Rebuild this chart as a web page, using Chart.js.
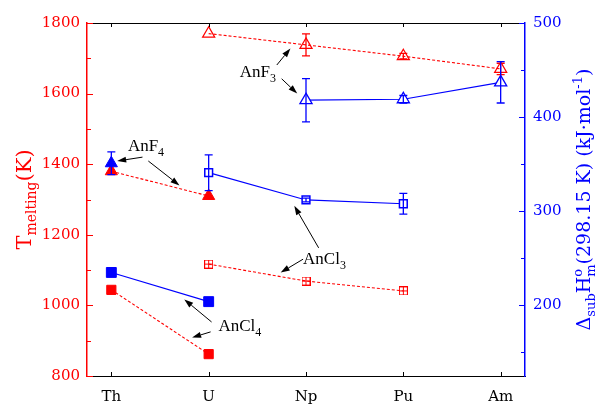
<!DOCTYPE html>
<html>
<head>
<meta charset="utf-8">
<script src="https://cdn.jsdelivr.net/npm/chart.js@4.4.1/dist/chart.umd.min.js"></script>
<style>
  html, body { margin: 0; padding: 0; background: #fff; }
</style>
</head>
<body>
<canvas id="meltChart" width="595" height="404"></canvas>
<script>
const elements = ["Th", "U", "Np", "Pu", "Am"];

// melting temperatures, K (left axis)
const tmAnF3 = [null, 1770, 1738, 1706, 1670];
const tmAnF3Err = [0, 0, 31, 8, 16];
const tmAnF4 = [1380, 1310, null, null, null];
const tmAnCl3 = [null, 1117, 1069, 1041, null];
const tmAnCl4 = [1044, 862, null, null, null];

// sublimation enthalpies at 298.15 K, kJ/mol (right axis)
const hAnF3 = [null, null, 418, 419, 437];
const hAnF3Err = [0, 0, 23, 4, 22];
const hAnF4 = [351, null, null, null, null];
const hAnF4Err = [12, 0, 0, 0, 0];
const hAnCl3 = [null, 341, 312, 308, null];
const hAnCl3Err = [0, 19, 2, 11, 0];
const hAnCl4 = [235, 204, null, null, null];
const hAnCl4Err = [3, 4, 0, 0, 0];

const tmTicks = [800, 1000, 1200, 1400, 1600, 1800];
const hTicks = [200, 300, 400, 500];

const RED = "#ff0000";
const BLUE = "#0000ff";
const SERIF = "DejaVu Serif";

function pts(vals, errs) {
  const out = [];
  vals.forEach((v, i) => {
    if (v !== null) out.push({ x: i, y: v, err: errs ? errs[i] : 0 });
  });
  return out;
}

// small square with a plus inside, used for the AnCl3 melting points
function crossedSquare(color, size) {
  const c = document.createElement("canvas");
  c.width = size; c.height = size;
  const g = c.getContext("2d");
  g.strokeStyle = color;
  g.lineWidth = 1;
  g.strokeRect(0.5, 0.5, size - 1, size - 1);
  g.beginPath();
  g.moveTo(size / 2, 0); g.lineTo(size / 2, size);
  g.moveTo(0, size / 2); g.lineTo(size, size / 2);
  g.stroke();
  return c;
}

// labels with arrows, positions in (element index, T in K)
const callouts = [
  { text: "AnF", sub: "3", at: [1.32, 1647],
    arrows: [[[1.70, 1681], [1.84, 1728]], [[1.75, 1642], [1.91, 1600]]] },
  { text: "AnF", sub: "4", at: [0.17, 1437],
    arrows: [[[0.32, 1420], [0.06, 1409]], [[0.38, 1409], [0.70, 1340]]] },
  { text: "AnCl", sub: "3", at: [1.97, 1117],
    arrows: [[[2.13, 1163], [1.88, 1282]], [[1.97, 1131], [1.74, 1093]]] },
  { text: "AnCl", sub: "4", at: [1.10, 927],
    arrows: [[[1.03, 953], [0.75, 1017]], [[1.02, 925], [0.83, 909]]] }
];

const errorBars = {
  id: "errorBars",
  afterDatasetsDraw(chart) {
    const ctx = chart.ctx;
    chart.data.datasets.forEach(ds => {
      const ys = chart.scales[ds.yAxisID];
      const xs = chart.scales.x;
      ds.data.forEach(p => {
        if (!p.err) return;
        const x = xs.getPixelForValue(p.x);
        const y0 = ys.getPixelForValue(p.y - p.err);
        const y1 = ys.getPixelForValue(p.y + p.err);
        ctx.save();
        ctx.strokeStyle = ds.borderColor;
        ctx.lineWidth = 1.3;
        ctx.beginPath();
        ctx.moveTo(x, y0); ctx.lineTo(x, y1);
        ctx.moveTo(x - 4, y0); ctx.lineTo(x + 4, y0);
        ctx.moveTo(x - 4, y1); ctx.lineTo(x + 4, y1);
        ctx.stroke();
        ctx.restore();
      });
    });
  }
};

// inward tick marks on all four sides plus the top frame line
const frameTicks = {
  id: "frameTicks",
  afterDraw(chart) {
    const { ctx, chartArea: a, scales } = chart;
    ctx.save();
    ctx.lineWidth = 1;
    ctx.strokeStyle = "#000";
    ctx.beginPath();
    ctx.moveTo(a.left, a.top + 0.5); ctx.lineTo(a.right, a.top + 0.5);
    elements.forEach((_, i) => {
      const x = Math.round(scales.x.getPixelForValue(i)) + 0.5;
      ctx.moveTo(x, a.bottom); ctx.lineTo(x, a.bottom - 4);
      ctx.moveTo(x, a.top); ctx.lineTo(x, a.top + 4);
    });
    ctx.stroke();

    ctx.strokeStyle = RED;
    ctx.beginPath();
    for (let v = 800; v <= 1800; v += 100) {
      const y = Math.round(scales.y.getPixelForValue(v)) + 0.5;
      const len = v % 200 === 0 ? 6 : 4;
      ctx.moveTo(a.left, y); ctx.lineTo(a.left + len, y);
    }
    ctx.stroke();

    ctx.strokeStyle = BLUE;
    ctx.beginPath();
    for (let v = 150; v <= 500; v += 50) {
      const y = Math.round(scales.y1.getPixelForValue(v)) + 0.5;
      const len = v % 100 === 0 ? 6 : 4;
      ctx.moveTo(a.right, y); ctx.lineTo(a.right - len, y);
    }
    ctx.stroke();
    ctx.restore();
  }
};

// draws a run of text pieces with sub/superscripts along one baseline
function richWidth(ctx, parts) {
  let w = 0, stackW = 0;
  parts.forEach(p => {
    ctx.font = p.f + "px '" + SERIF + "'";
    const tw = ctx.measureText(p.t).width;
    if (p.stack) { stackW = tw; return; }
    w += Math.max(tw, stackW);
    stackW = 0;
  });
  return w;
}
function richDraw(ctx, parts, x, y) {
  let stackW = 0;
  parts.forEach(p => {
    ctx.font = p.f + "px '" + SERIF + "'";
    ctx.fillText(p.t, x, y + (p.dy || 0));
    const tw = ctx.measureText(p.t).width;
    if (p.stack) { stackW = tw; return; }
    x += Math.max(tw, stackW);
    stackW = 0;
  });
}

const axisTitles = {
  id: "axisTitles",
  afterDraw(chart) {
    const ctx = chart.ctx;
    const mid = (chart.chartArea.top + chart.chartArea.bottom) / 2;
    const left = [
      { t: "T", f: 21 }, { t: "melting", f: 14, dy: 5 }, { t: "(K)", f: 21 }
    ];
    const right = [
      { t: "\u0394", f: 19 }, { t: "sub", f: 13, dy: 5 }, { t: "H", f: 19 },
      { t: "o", f: 13, dy: -8, stack: true }, { t: "m", f: 13, dy: 5 },
      { t: "(298.15 K) (kJ\u00b7mol", f: 19 }, { t: "-1", f: 13, dy: -8 }, { t: ")", f: 19 }
    ];
    ctx.save();
    ctx.textBaseline = "alphabetic";
    ctx.textAlign = "left";

    ctx.save();
    ctx.fillStyle = RED;
    ctx.translate(31, mid);
    ctx.rotate(-Math.PI / 2);
    richDraw(ctx, left, -richWidth(ctx, left) / 2, 0);
    ctx.restore();

    ctx.save();
    ctx.fillStyle = BLUE;
    ctx.translate(590, mid);
    ctx.rotate(-Math.PI / 2);
    richDraw(ctx, right, -richWidth(ctx, right) / 2, 0);
    ctx.restore();

    // compound labels and arrows
    const xs = chart.scales.x, ys = chart.scales.y;
    ctx.fillStyle = "#000";
    ctx.strokeStyle = "#000";
    callouts.forEach(c => {
      const tx = xs.getPixelForValue(c.at[0]);
      const ty = ys.getPixelForValue(c.at[1]);
      ctx.font = "17px 'Liberation Serif'";
      ctx.fillText(c.text, tx, ty);
      const w = ctx.measureText(c.text).width;
      ctx.font = "12px 'Liberation Serif'";
      ctx.fillText(c.sub, tx + w, ty + 5);
      c.arrows.forEach(([from, to]) => {
        const x0 = xs.getPixelForValue(from[0]), y0 = ys.getPixelForValue(from[1]);
        const x1 = xs.getPixelForValue(to[0]), y1 = ys.getPixelForValue(to[1]);
        const ang = Math.atan2(y1 - y0, x1 - x0);
        const hl = 9, hw = 3;
        const bx = x1 - hl * Math.cos(ang), by = y1 - hl * Math.sin(ang);
        ctx.lineWidth = 1;
        ctx.beginPath();
        ctx.moveTo(x0, y0); ctx.lineTo(bx, by);
        ctx.stroke();
        ctx.beginPath();
        ctx.moveTo(x1, y1);
        ctx.lineTo(bx + hw * Math.sin(ang), by - hw * Math.cos(ang));
        ctx.lineTo(bx - hw * Math.sin(ang), by + hw * Math.cos(ang));
        ctx.closePath();
        ctx.fill();
      });
    });
    ctx.restore();
  }
};

const redLine = { borderColor: RED, borderWidth: 1.1, borderDash: [3, 2], yAxisID: "y", order: 2 };
const blueLine = { borderColor: BLUE, borderWidth: 1.2, yAxisID: "y1", order: 1 };

const datasets = [
  Object.assign({ label: "AnF3 Tm", data: pts(tmAnF3, tmAnF3Err), pointStyle: "triangle",
    pointRadius: 7, pointBorderWidth: 1.2, pointBackgroundColor: "rgba(255,255,255,0)", pointBorderColor: RED }, redLine),
  Object.assign({ label: "AnF4 Tm", data: pts(tmAnF4), pointStyle: "triangle",
    pointRadius: 7, pointBorderWidth: 1, pointBackgroundColor: RED, pointBorderColor: RED }, redLine),
  Object.assign({ label: "AnCl3 Tm", data: pts(tmAnCl3), pointStyle: crossedSquare(RED, 9),
    pointRadius: 5 }, redLine),
  Object.assign({ label: "AnCl4 Tm", data: pts(tmAnCl4), pointStyle: "rect",
    pointRadius: 6.5, pointBorderWidth: 1, pointBackgroundColor: RED, pointBorderColor: RED }, redLine),
  Object.assign({ label: "AnF3 H", data: pts(hAnF3, hAnF3Err), pointStyle: "triangle",
    pointRadius: 7, pointBorderWidth: 1.3, pointBackgroundColor: "#fff", pointBorderColor: BLUE }, blueLine),
  Object.assign({ label: "AnF4 H", data: pts(hAnF4, hAnF4Err), pointStyle: "triangle",
    pointRadius: 7, pointBorderWidth: 1, pointBackgroundColor: BLUE, pointBorderColor: BLUE }, blueLine),
  Object.assign({ label: "AnCl3 H", data: pts(hAnCl3, hAnCl3Err), pointStyle: "rect",
    pointRadius: 5.5, pointBorderWidth: 1.5, pointBackgroundColor: "#fff", pointBorderColor: BLUE }, blueLine),
  Object.assign({ label: "AnCl4 H", data: pts(hAnCl4, hAnCl4Err), pointStyle: "rect",
    pointRadius: 7, pointBorderWidth: 1, pointBackgroundColor: BLUE, pointBorderColor: BLUE }, blueLine)
];

const tickFont = { family: SERIF, size: 15 };

new Chart(document.getElementById("meltChart"), {
  type: "line",
  data: { datasets },
  options: {
    responsive: false,
    animation: false,
    events: [],
    devicePixelRatio: 1,
    layout: { padding: { top: 23, left: 0, right: 0, bottom: 0 } },
    plugins: { legend: { display: false }, tooltip: { enabled: false } },
    scales: {
      x: {
        type: "linear", min: -0.25, max: 4.25,
        afterBuildTicks: s => { s.ticks = elements.map((_, i) => ({ value: i })); },
        ticks: { callback: v => elements[v], color: "#000", font: tickFont, padding: 12,
          maxRotation: 0, autoSkip: false },
        grid: { display: false, drawTicks: false },
        border: { color: "#000", width: 1 },
        afterFit: s => { s.height = 28; }
      },
      y: {
        position: "left", min: 800, max: 1800,
        afterBuildTicks: s => { s.ticks = tmTicks.map(v => ({ value: v })); },
        ticks: { callback: v => String(v), color: RED, font: tickFont, padding: 7 },
        grid: { display: false, drawTicks: false },
        border: { color: RED, width: 1.5 },
        afterFit: s => { s.width = 87; }
      },
      y1: {
        position: "right", min: 125, max: 500,
        afterBuildTicks: s => { s.ticks = hTicks.map(v => ({ value: v })); },
        ticks: { callback: v => String(v), color: BLUE, font: tickFont, padding: 8 },
        grid: { display: false, drawTicks: false },
        border: { color: BLUE, width: 1.5 },
        afterFit: s => { s.width = 70; }
      }
    }
  },
  plugins: [errorBars, frameTicks, axisTitles]
});
</script>
</body>
</html>
